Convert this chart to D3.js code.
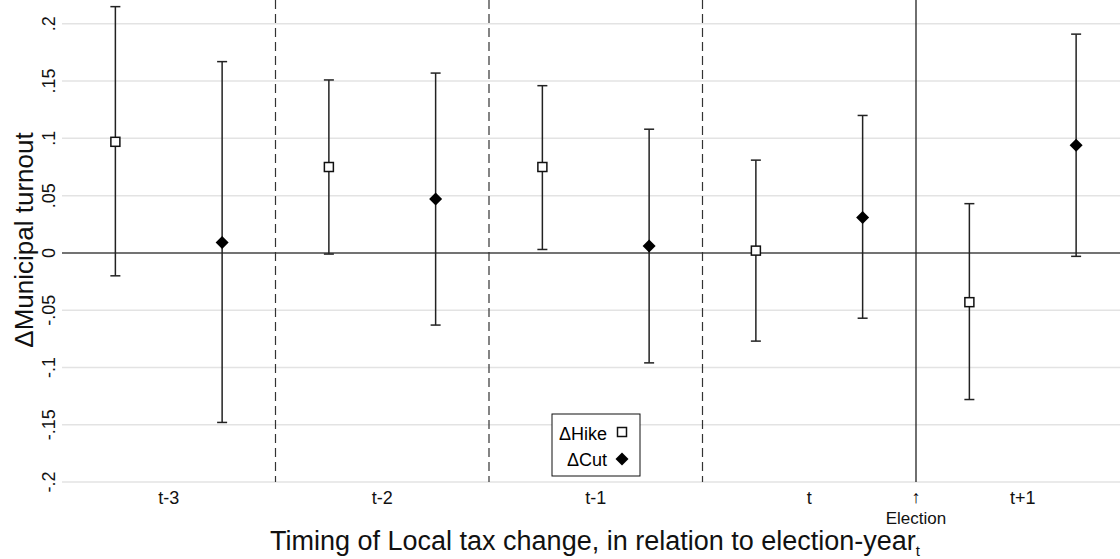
<!DOCTYPE html>
<html>
<head>
<meta charset="utf-8">
<script src="https://cdn.jsdelivr.net/npm/d3@7"></script>
<style>
    body { margin: 0; background: #fff; }
    svg { display: block; font-family: "Liberation Sans", Arial, sans-serif; }
</style>
</head>
<body>
<svg id="svg" width="1120" height="559"></svg>
<script>
// periods on the x axis
var periods = ['t-3', 't-2', 't-1', 't', 't+1'];

// tax hike: point estimate and 95% CI
var hikeEst = [0.097, 0.075, 0.075, 0.002, -0.043],
    hikeLo = [-0.020, -0.001, 0.003, -0.077, -0.128],
    hikeHi = [0.215, 0.151, 0.146, 0.081, 0.043];

// tax cut
var cutEst = [0.009, 0.047, 0.006, 0.031, 0.094],
    cutLo = [-0.148, -0.063, -0.096, -0.057, -0.003],
    cutHi = [0.167, 0.157, 0.108, 0.120, 0.191];

var yTicks = [-0.2, -0.15, -0.1, -0.05, 0, 0.05, 0.1, 0.15, 0.2],
    yTickLabels = ['-.2', '-.15', '-.1', '-.05', '0', '.05', '.1', '.15', '.2'];

var plot = {left: 62, right: 1120, top: 0, bottom: 482},
    groupW = 213.5;

var $svg = d3.select('#svg');

var x = d3.scaleLinear()
    .domain([0, (plot.right - plot.left) / groupW])
    .range([plot.left, plot.right]);

var y = d3.scaleLinear()
    .domain([-0.2, 0.2208])
    .range([plot.bottom, plot.top]);

// gridlines
$svg.append('g')
    .selectAll('line')
    .data(yTicks.filter(function (d) { return d !== 0; }))
    .enter()
    .append('line')
    .attr('x1', plot.left).attr('x2', plot.right)
    .attr('y1', function (d) { return y(d); })
    .attr('y2', function (d) { return y(d); })
    .attr('stroke', '#e3e3e3')
    .attr('stroke-width', 1.5);

// zero line
$svg.append('line')
    .attr('x1', plot.left).attr('x2', plot.right)
    .attr('y1', y(0)).attr('y2', y(0))
    .attr('stroke', '#444').attr('stroke-width', 1.5);

// y tick labels (rotated, stata style)
$svg.append('g')
    .selectAll('text')
    .data(yTicks)
    .enter()
    .append('text')
    .attr('transform', function (d) { return 'translate(55,' + y(d) + ') rotate(-90)'; })
    .attr('text-anchor', 'middle')
    .attr('font-size', 18)
    .attr('fill', '#111')
    .text(function (d, i) { return yTickLabels[i]; });

$svg.append('text')
    .attr('transform', 'translate(33,240) rotate(-90)')
    .attr('text-anchor', 'middle')
    .attr('font-size', 26)
    .attr('fill', '#111')
    .text('\u0394Municipal turnout');

// period separators
[1, 2, 3].forEach(function (i) {
    $svg.append('line')
        .attr('x1', x(i)).attr('x2', x(i))
        .attr('y1', plot.top).attr('y2', plot.bottom)
        .attr('stroke', '#333').attr('stroke-width', 1.2)
        .attr('stroke-dasharray', '9,5');
});
$svg.append('line')
    .attr('x1', x(4)).attr('x2', x(4))
    .attr('y1', plot.top).attr('y2', plot.bottom)
    .attr('stroke', '#222').attr('stroke-width', 1.3);

// x labels
$svg.append('g')
    .selectAll('text')
    .data(periods)
    .enter()
    .append('text')
    .attr('x', function (d, i) { return x(i + 0.5); })
    .attr('y', 504)
    .attr('text-anchor', 'middle')
    .attr('font-size', 18)
    .attr('fill', '#111')
    .text(function (d) { return d; });

$svg.append('text')
    .attr('x', x(4)).attr('y', 503)
    .attr('text-anchor', 'middle')
    .attr('font-size', 18)
    .text('\u2191');
$svg.append('text')
    .attr('x', x(4)).attr('y', 524)
    .attr('text-anchor', 'middle')
    .attr('font-size', 17)
    .attr('fill', '#111')
    .text('Election');

var $title = $svg.append('text')
    .attr('x', 595).attr('y', 550)
    .attr('text-anchor', 'middle')
    .attr('font-size', 27)
    .attr('fill', '#111');
$title.append('tspan').text('Timing of Local tax change, in relation to election-year');
$title.append('tspan').attr('font-size', 15).attr('dy', 6).text('t');

// error bars
function drawSeries(est, lo, hi, offset, marker) {
    var $g = $svg.append('g');
    est.forEach(function (v, i) {
        var cx = x(i + offset);
        $g.append('line')
            .attr('x1', cx).attr('x2', cx)
            .attr('y1', y(lo[i])).attr('y2', y(hi[i]))
            .attr('stroke', '#222').attr('stroke-width', 1.5);
        [lo[i], hi[i]].forEach(function (c) {
            $g.append('line')
                .attr('x1', cx - 5).attr('x2', cx + 5)
                .attr('y1', y(c)).attr('y2', y(c))
                .attr('stroke', '#222').attr('stroke-width', 1.5);
        });
        marker($g, cx, y(v));
    });
}

function square($g, cx, cy) {
    $g.append('rect')
        .attr('x', cx - 4.5).attr('y', cy - 4.5)
        .attr('width', 9).attr('height', 9)
        .attr('fill', '#fff').attr('stroke', '#111').attr('stroke-width', 1.5);
}

function diamond($g, cx, cy) {
    $g.append('path')
        .attr('d', 'M' + cx + ',' + (cy - 6.5) + 'L' + (cx + 6.5) + ',' + cy +
            'L' + cx + ',' + (cy + 6.5) + 'L' + (cx - 6.5) + ',' + cy + 'Z')
        .attr('fill', '#000');
}

drawSeries(hikeEst, hikeLo, hikeHi, 0.25, square);
drawSeries(cutEst, cutLo, cutHi, 0.75, diamond);

// legend
var $legend = $svg.append('g');
$legend.append('rect')
    .attr('x', 552).attr('y', 414)
    .attr('width', 88).attr('height', 62)
    .attr('fill', '#fff').attr('stroke', '#111').attr('stroke-width', 1);
$legend.append('text')
    .attr('x', 607).attr('y', 440)
    .attr('text-anchor', 'end').attr('font-size', 18)
    .text('\u0394Hike');
$legend.append('text')
    .attr('x', 607).attr('y', 466)
    .attr('text-anchor', 'end').attr('font-size', 18)
    .text('\u0394Cut');
square($legend, 622, 432);
diamond($legend, 622, 459);
</script>
</body>
</html>
